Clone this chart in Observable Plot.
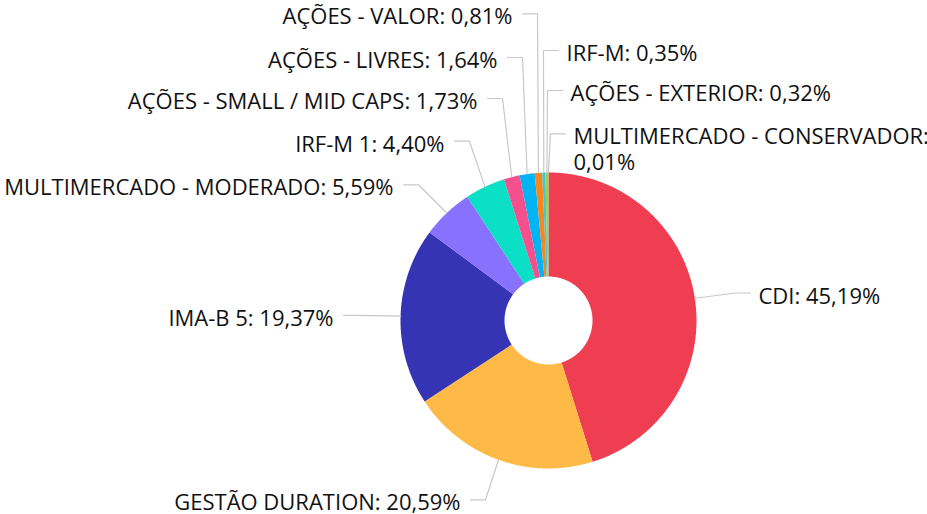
<!DOCTYPE html>
<html><head><meta charset="utf-8">
<script src="https://cdn.jsdelivr.net/npm/d3@7"></script>
<script src="https://cdn.jsdelivr.net/npm/@observablehq/plot@0.6"></script>
<style>html,body{margin:0;padding:0;background:#fff;} svg{display:block}</style>
</head><body><div id="chart"></div>
<script>
// ---- data ----
const categories = [
  "CDI", "GESTÃO DURATION", "IMA-B 5", "MULTIMERCADO - MODERADO", "IRF-M 1",
  "AÇÕES - SMALL / MID CAPS", "AÇÕES - LIVRES", "AÇÕES - VALOR", "IRF-M",
  "AÇÕES - EXTERIOR", "MULTIMERCADO - CONSERVADOR"
];
const shares = [45.19, 20.59, 19.37, 5.59, 4.40, 1.73, 1.64, 0.81, 0.35, 0.32, 0.01];
const sliceColors = [
  "#ef3e52", "#ffb946", "#3434b4", "#8871fd", "#0bdfc6",
  "#f5508d", "#03b4f4", "#f5871f", "#3fc6e0", "#9cd43a", "#7e5bef"
];

// ---- label layout (placement of leader lines) ----
const labelSide  = ["right","left","left","left","left","left","left","left","right","right","right"];
const labelTurnX = [735, 485, 358, 418, 469, 502, 522, 537, 543, 547, 550];
const labelLineY = [292.5, 499.3, 314.8, 184.3, 140.7, 98, 57, 13.3, 50, 90, 133.3];

const W = 927, H = 514, cx = 548, cy = 320, R = 148, R0 = 44;
const arcs = d3.pie().sort(null).value(d => d)(shares);
const pt = (a, r) => [cx + r * Math.sin(a), cy - r * Math.cos(a)];

const slices = [];
arcs.forEach((p, i) => {
  const n = Math.max(2, Math.ceil((p.endAngle - p.startAngle) / (Math.PI / 360)));
  for (let k = 0; k <= n; k++) {
    const [x, y] = pt(p.startAngle + (p.endAngle - p.startAngle) * k / n, R);
    slices.push({i, x, y, color: sliceColors[i]});
  }
  for (let k = n; k >= 0; k--) {
    const [x, y] = pt(p.startAngle + (p.endAngle - p.startAngle) * k / n, R0);
    slices.push({i, x, y, color: sliceColors[i]});
  }
});

const fmt = v => v.toFixed(2).replace(".", ",") + "%";
const leaders = [], labels = [];
arcs.forEach((p, i) => {
  const a = (p.startAngle + p.endAngle) / 2;
  const [x0, y0] = pt(a, R);
  const dir = labelSide[i] === "left" ? -1 : 1;
  leaders.push({i, x: x0, y: y0});
  leaders.push({i, x: labelTurnX[i], y: labelLineY[i]});
  leaders.push({i, x: labelTurnX[i] + dir * 15, y: labelLineY[i]});
  labels.push({
    side: labelSide[i],
    x: labelTurnX[i] + dir * (15 + (dir < 0 ? 10 : 8)),
    y: labelLineY[i],
    text: `${categories[i]}: ${fmt(shares[i])}`
  });
});

const textOpts = {x: "x", y: "y", text: "text", lineAnchor: "top", lineHeight: 1.18,
  dy: -7.8, fill: "#111", fontSize: 22, fontFamily: "'Open Sans', sans-serif"};

const chart = Plot.plot({
  width: W, height: H, margin: 0,
  x: {domain: [0, W], range: [0, W], axis: null},
  y: {domain: [0, H], range: [0, H], axis: null},
  color: {type: "identity"},
  style: {fontFamily: "'Open Sans', sans-serif", fontSize: "22px", background: "#fff", overflow: "visible"},
  marks: [
    Plot.line(slices, {x: "x", y: "y", z: "i", fill: "color", stroke: "none", curve: "linear-closed"}),
    Plot.line(leaders, {x: "x", y: "y", z: "i", stroke: "#c8c8c8", strokeWidth: 1.2, curve: "linear"}),
    Plot.text(labels.filter(d => d.side === "left"), {...textOpts, textAnchor: "end"}),
    Plot.text(labels.filter(d => d.side === "right"), {...textOpts, textAnchor: "start", lineWidth: 18})
  ]
});
document.getElementById("chart").appendChild(chart);
</script>
</body></html>
